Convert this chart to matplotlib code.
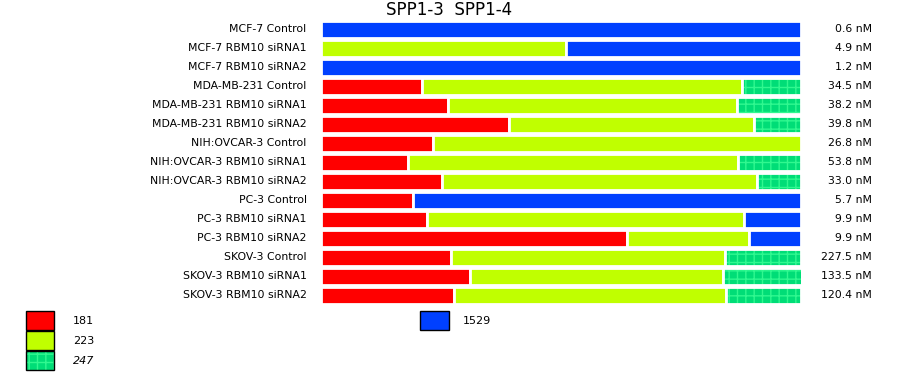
import matplotlib
matplotlib.use("Agg")
import matplotlib.pyplot as plt
from matplotlib.patches import Rectangle
import numpy as np

plt.rcParams['font.family'] = ['DejaVu Sans']
plt.rcParams['hatch.linewidth'] = 1.0

samples = ["MCF-7 Control", "MCF-7 RBM10 siRNA1", "MCF-7 RBM10 siRNA2",
           "MDA-MB-231 Control", "MDA-MB-231 RBM10 siRNA1", "MDA-MB-231 RBM10 siRNA2",
           "NIH:OVCAR-3 Control", "NIH:OVCAR-3 RBM10 siRNA1", "NIH:OVCAR-3 RBM10 siRNA2",
           "PC-3 Control", "PC-3 RBM10 siRNA1", "PC-3 RBM10 siRNA2",
           "SKOV-3 Control", "SKOV-3 RBM10 siRNA1", "SKOV-3 RBM10 siRNA2"]
totals = ["0.6 nM", "4.9 nM", "1.2 nM", "34.5 nM", "38.2 nM", "39.8 nM",
          "26.8 nM", "53.8 nM", "33.0 nM", "5.7 nM", "9.9 nM", "9.9 nM",
          "227.5 nM", "133.5 nM", "120.4 nM"]

# percent share of each isoform per sample
iso_181 = [0, 0, 0, 21.0, 26.5, 39.2, 23.3, 18.1, 25.2, 19.2, 22.1, 63.8, 27.1, 31.0, 27.7]
iso_223 = [0, 51.0, 0, 66.7, 60.2, 51.0, 76.7, 68.8, 65.6, 0, 66.0, 25.4, 57.1, 52.7, 56.7]
iso_247 = [0, 0, 0, 12.3, 13.3, 9.8, 0, 13.1, 9.2, 0, 0, 0, 15.8, 16.7, 15.6]
iso_1529 = [100, 49.0, 100, 0, 0, 0, 0, 0, 0, 80.8, 11.9, 10.8, 0, 0, 0]

title = "SPP1-3  SPP1-4"
legend_left = ["181", "223", "247"]
legend_right = ["1529"]

c181 = "#FF0000"
c223 = "#C0FF00"
c247 = "#00DD77"
c247h = "#30F890"
c1529 = "#0040FF"
txt = "#000000"

fig = plt.figure(figsize=(9, 3.75), dpi=100)
ax = fig.add_axes([321 / 900, 1 - 305 / 375, 480 / 900, 285.2 / 375])

n = len(samples)
y = np.arange(n)
h = 0.9
order = [(iso_181, c181, None), (iso_223, c223, None),
         (iso_247, c247, '++'), (iso_1529, c1529, None)]
left = np.zeros(n)
for vals, col, hatch in order:
    vals = np.array(vals, dtype=float)
    mask = vals > 0
    if hatch:
        ax.barh(y[mask], vals[mask], left=left[mask], height=h, color=col,
                hatch=hatch, edgecolor=c247h, linewidth=0)
        ax.barh(y[mask], vals[mask], left=left[mask], height=h, fill=False,
                edgecolor="white", linewidth=2.0)
    else:
        ax.barh(y[mask], vals[mask], left=left[mask], height=h, color=col,
                edgecolor="white", linewidth=2.0)
    left += vals

ax.set_xlim(0, 100)
ax.set_ylim(n - 0.5, -0.5)
ax.axis("off")

for i in range(n):
    ax.text(-3.0, i, samples[i], ha="right", va="center", fontsize=7.8, color=txt)
    ax.text(114.8, i, totals[i], ha="right", va="center", fontsize=7.8, color=txt)

fig.text(449 / 900, 1 - 10 / 375, title, ha="center", va="center", fontsize=12, color=txt)

# legend
def fig_rect(x0, y0, w, hh, color):
    r = Rectangle((x0 / 900, 1 - (y0 + hh) / 375), w / 900, hh / 375,
                  transform=fig.transFigure, facecolor=color, edgecolor="black",
                  linewidth=1.0)
    fig.patches.append(r)
    return r

fig_rect(26, 311, 28, 19, c181)
fig.text(73 / 900, 1 - 321 / 375, legend_left[0], ha="left", va="center", fontsize=8, color=txt)
fig_rect(26, 331, 28, 19, c223)
fig.text(73 / 900, 1 - 341 / 375, legend_left[1], ha="left", va="center", fontsize=8, color=txt)
r = Rectangle((26 / 900, 1 - 370 / 375), 28 / 900, 19 / 375, transform=fig.transFigure,
              facecolor=c247, edgecolor=c247h, linewidth=0, hatch='++')
fig.patches.append(r)
fig.patches.append(Rectangle((26 / 900, 1 - 370 / 375), 28 / 900, 19 / 375, transform=fig.transFigure,
                             fill=False, edgecolor="black", linewidth=1.0))
fig.text(73 / 900, 1 - 361 / 375, legend_left[2], ha="left", va="center", fontsize=8,
         style="italic", color=txt)
fig_rect(420, 311, 29, 19, c1529)
fig.text(463 / 900, 1 - 321 / 375, legend_right[0], ha="left", va="center", fontsize=8, color=txt)

fig.savefig("out.png", dpi=100)
